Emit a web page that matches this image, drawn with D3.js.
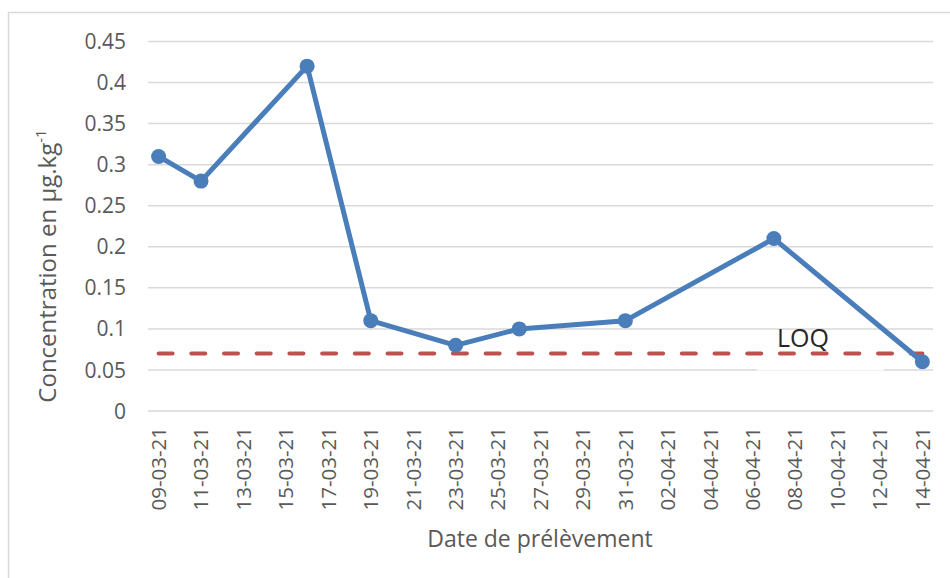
<!DOCTYPE html>
<html>
<head>
<meta charset="utf-8">
<script src="https://cdn.jsdelivr.net/npm/d3@7"></script>
<style>
  html, body { margin: 0; padding: 0; background: #fff; }
  svg { display: block; }
  text { font-family: "Open Sans", "Noto Sans", sans-serif; }
</style>
</head>
<body>
<svg id="chart" width="950" height="578"></svg>
<script>
// Sampling dates and measured concentrations (µg/kg)
const sampleDates = ["2021-03-09", "2021-03-11", "2021-03-16", "2021-03-19", "2021-03-23",
                     "2021-03-26", "2021-03-31", "2021-04-07", "2021-04-14"];
const concentrations = [0.31, 0.28, 0.42, 0.11, 0.08, 0.10, 0.11, 0.21, 0.06];

// Limit of quantification, drawn over the whole sampling period
const loqDates = ["2021-03-09", "2021-04-14"];
const loqValues = [0.07, 0.07];
const loqLabel = "LOQ";

// Axis ticks
const yTicks = [0, 0.05, 0.1, 0.15, 0.2, 0.25, 0.3, 0.35, 0.4, 0.45];
const xTickStart = "2021-03-09";
const xTickEnd = "2021-04-14";
const xTickStepDays = 2;

const yTitle = "Concentration en µg.kg";
const yTitleSup = "-1";
const xTitle = "Date de prélèvement";

const parse = d3.utcParse("%Y-%m-%d");
const fmt = d3.utcFormat("%d-%m-%y");

const svg = d3.select("#chart");

// chart frame
svg.append("rect")
  .attr("x", 8.5).attr("y", 12.5)
  .attr("width", 960).attr("height", 600)
  .attr("fill", "none").attr("stroke", "#d9d9d9").attr("stroke-width", 1.5);

const plotLeft = 148, plotRight = 933, plotTop = 41.5, plotBottom = 411;

// dates sit in the middle of each day slot
const x = d3.scaleUtc()
  .domain([d3.utcHour.offset(parse(xTickStart), -12), d3.utcHour.offset(parse(xTickEnd), 12)])
  .range([plotLeft, plotRight]);
const y = d3.scaleLinear().domain([0, 0.45]).range([plotBottom, plotTop]);

const xTicks = d3.utcDay.range(parse(xTickStart), d3.utcDay.offset(parse(xTickEnd), 1), xTickStepDays);

// horizontal gridlines
svg.append("g")
  .selectAll("line")
  .data(yTicks)
  .join("line")
  .attr("x1", plotLeft).attr("x2", plotRight)
  .attr("y1", d => y(d)).attr("y2", d => y(d))
  .attr("stroke", "#d9d9d9").attr("stroke-width", 1.5);

// y tick labels
svg.append("g")
  .selectAll("text")
  .data(yTicks)
  .join("text")
  .attr("x", 126)
  .attr("y", d => y(d))
  .attr("dy", "0.36em")
  .attr("text-anchor", "end")
  .attr("fill", "#595959")
  .attr("font-size", 21)
  .text(d => d3.format("")(d));

// x tick labels, rotated
svg.append("g")
  .selectAll("text")
  .data(xTicks)
  .join("text")
  .attr("transform", d => `translate(${x(d)},427) rotate(-90)`)
  .attr("dy", "0.36em")
  .attr("text-anchor", "end")
  .attr("fill", "#595959")
  .attr("font-size", 20.5)
  .text(d => fmt(d));

// axis titles
const yt = svg.append("text")
  .attr("transform", "translate(56,266) rotate(-90)")
  .attr("text-anchor", "middle")
  .attr("fill", "#595959")
  .attr("font-size", 24);
yt.append("tspan").text(yTitle);
yt.append("tspan").attr("font-size", 15).attr("dy", -10).text(yTitleSup);

svg.append("text")
  .attr("x", 540).attr("y", 547)
  .attr("text-anchor", "middle")
  .attr("fill", "#595959")
  .attr("font-size", 23)
  .text(xTitle);

// LOQ label box (white background)
svg.append("rect")
  .attr("x", 757).attr("y", 331)
  .attr("width", 127).attr("height", 39.5)
  .attr("fill", "#fff");

// LOQ dashed line
const loqData = loqDates.map((d, i) => ({ date: parse(d), value: loqValues[i] }));
svg.append("path")
  .datum(loqData)
  .attr("d", d3.line().x(d => x(d.date)).y(d => y(d.value)))
  .attr("fill", "none")
  .attr("stroke", "#c0504d")
  .attr("stroke-width", 4)
  .attr("stroke-linecap", "round")
  .attr("stroke-dasharray", "14,18.7");

// concentration series
const series = sampleDates.map((d, i) => ({ date: parse(d), value: concentrations[i] }));
svg.append("path")
  .datum(series)
  .attr("d", d3.line().x(d => x(d.date)).y(d => y(d.value)))
  .attr("fill", "none")
  .attr("stroke", "#4a7ebb")
  .attr("stroke-width", 5)
  .attr("stroke-linejoin", "round");

svg.append("g")
  .selectAll("circle")
  .data(series)
  .join("circle")
  .attr("cx", d => x(d.date))
  .attr("cy", d => y(d.value))
  .attr("r", 7.5)
  .attr("fill", "#4a7ebb");

svg.append("text")
  .attr("x", 777).attr("y", 347)
  .attr("fill", "#262626")
  .attr("font-size", 25)
  .text(loqLabel);
</script>
</body>
</html>
